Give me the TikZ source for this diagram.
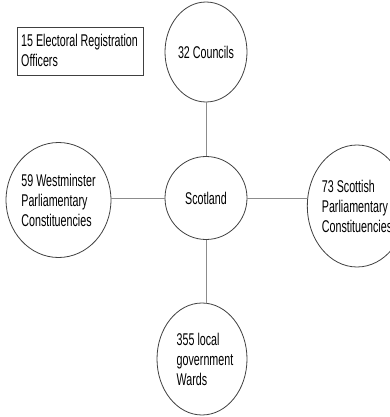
\documentclass[tikz,border=0pt]{standalone}
\usepackage{fontspec}
\setmainfont[FakeStretch=0.63]{Liberation Sans}
\usetikzlibrary{shapes.geometric}
\begin{document}
\begin{tikzpicture}[x=1pt,y=-1pt,
  txt/.style={font=\fontsize{17}{20}\selectfont},
  bubble/.style={ellipse,draw=black!75,line width=0.8pt,inner sep=0pt,
    align=left,txt,fill=white},
  link/.style={draw=black!45,line width=0.8pt},
  labelbox/.style={rectangle,draw=black!75,line width=0.8pt,inner sep=0pt,
    minimum width=126pt,minimum height=48pt}]
\useasboundingbox (0,0) rectangle (390,417);
\node[labelbox] (erobox) at (80,51) {};
\node[anchor=north west,align=left,txt,inner sep=0pt] (ero) at (21,34.3) {15 Electoral Registration\\Officers};
\node[bubble,minimum width=82pt,minimum height=100pt] (top) at (206,52) {32 Councils};
\node[bubble,minimum width=82pt,minimum height=83pt] (c) at (206,198) {Scotland};
\node[bubble,minimum width=91pt,minimum height=115pt] (l) at (58.5,200) {59 Westminster\\Parliamentary\\Constituencies};
\node[bubble,minimum width=90pt,minimum height=122pt] (r) at (357,206) {73 Scottish\\Parliamentary\\Constituencies};
\node[bubble,minimum width=90pt,minimum height=112pt] (b) at (202,359) {};
\node[align=left,txt,inner sep=0pt] (bt) at (205,359) {355 local\\government\\Wards};
\draw[link] (c.north) -- (c.north |- top.south);
\draw[link] (c.south) -- (c.south |- b.north);
\draw[link] (c.west) -- (c.west -| l.east);
\draw[link] (c.east) -- (c.east -| r.west);
\end{tikzpicture}
\end{document}
